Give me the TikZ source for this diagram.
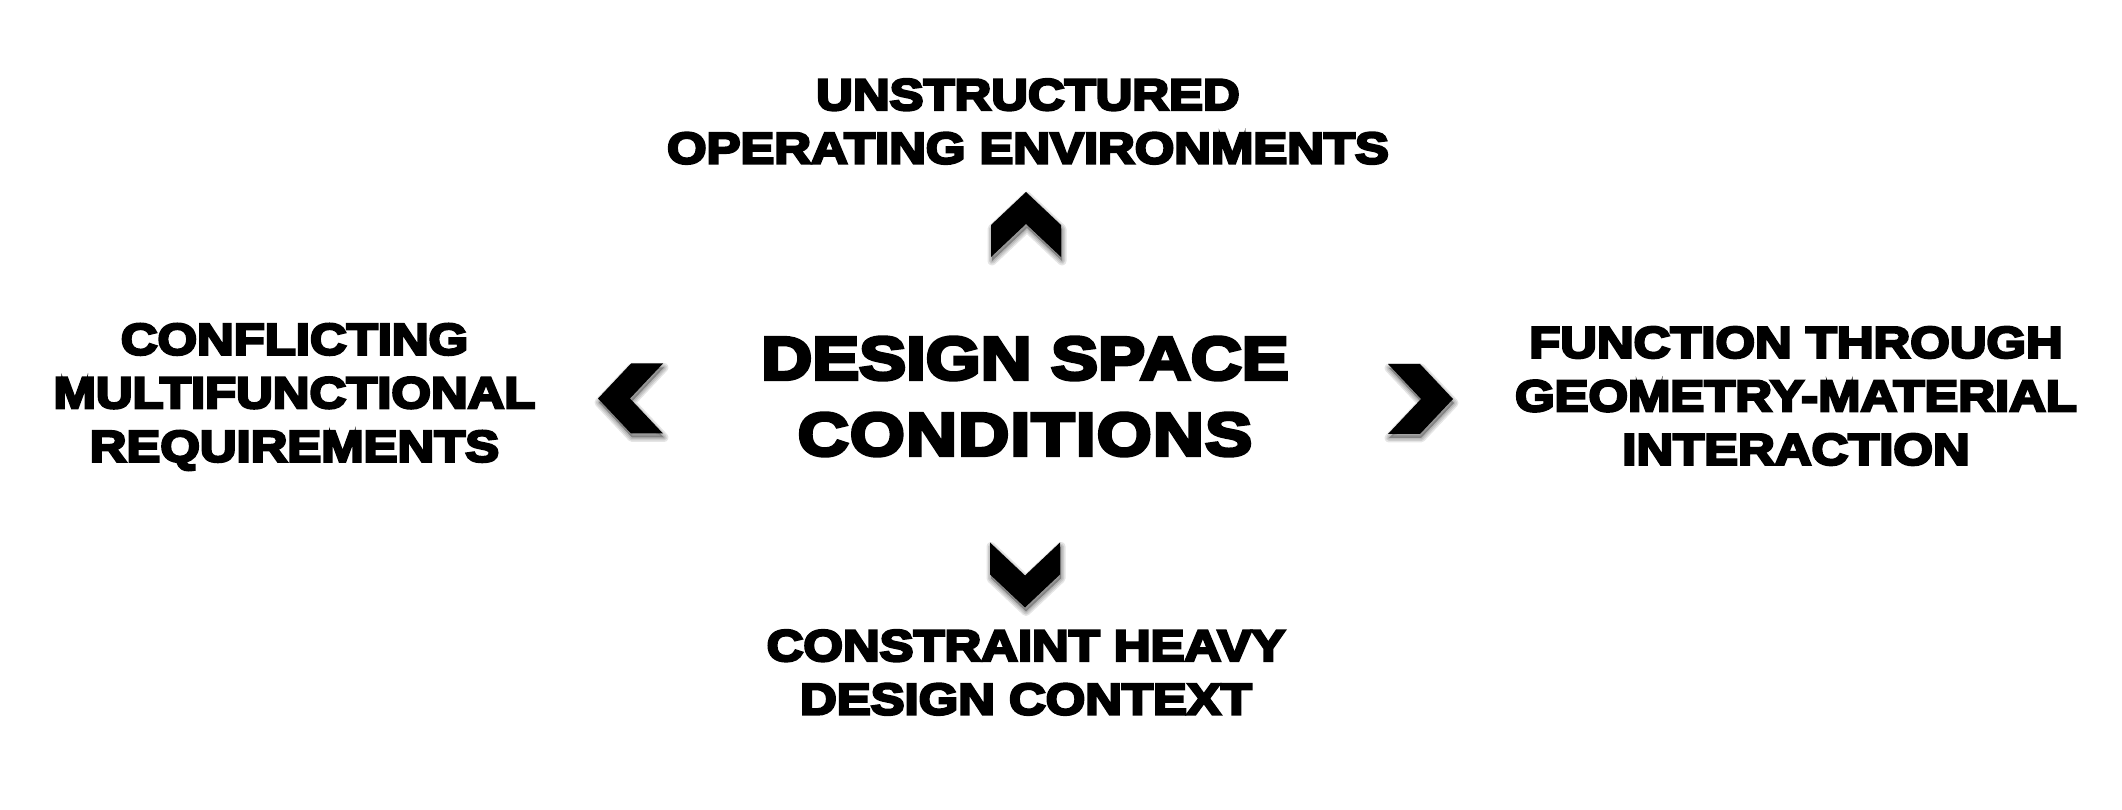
\documentclass[tikz,border=0pt]{standalone}
\usepackage{fontspec}
\newfontfamily\lblfont{Liberation Sans}[BoldFeatures={FakeBold=6,FakeStretch=1.155}]
\newfontfamily\ttlfont{Liberation Sans}[BoldFeatures={FakeBold=6,FakeStretch=1.165}]
\tikzset{
  lbl/.style={font=\lblfont\bfseries\fontsize{44}{53.5}\selectfont, align=center, inner sep=0pt, text=black},
  ttl/.style={font=\ttlfont\bfseries\fontsize{60.5}{76}\selectfont, align=center, inner sep=0pt, text=black},
  chevshadow/.style={fill=black, draw=black, line join=round, fill opacity=0.10, draw opacity=0.10},
  chevbody/.style={fill=black, draw=none},
  pics/chevron/.style 2 args={code={
    \foreach \w in {9,6,3}{
      \path[chevshadow, line width=\w pt, shift={(#1,#2)}]
        (0,32.5) -- (35,-0.5) -- (35,-32.5) -- (0,0.5) -- (-35,-32.5) -- (-35,-0.5) -- cycle;
    }
    \path[chevbody]
      (0,32.5) -- (35,-0.5) -- (35,-32.5) -- (0,0.5) -- (-35,-32.5) -- (-35,-0.5) -- cycle;
  }}
}
\begin{document}
\begin{tikzpicture}[x=1pt,y=1pt]
\useasboundingbox (0,0) rectangle (2122,810);
\fill[white] (0,0) rectangle (2122,810);
% text blocks
\node[ttl] (core) at (1025,413.5) {DESIGN SPACE\\{\addfontfeature{LetterSpace=2.2}CONDITIONS}};
\node[lbl] (top) at (1028,688.5) {UNSTRUCTURED\\OPERATING ENVIRONMENTS};
\node[lbl] (left) at (294.5,413) {CONFLICTING\\MULTIFUNCTIONAL\\REQUIREMENTS};
\node[lbl] (right) at (1796,414) {FUNCTION THROUGH\\GEOMETRY-MATERIAL\\INTERACTION};
\node[lbl] (bottom) at (1026,137.5) {CONSTRAINT HEAVY\\DESIGN CONTEXT};
% chevron positions
\coordinate (cu) at (1026,585.5);
\coordinate (cd) at (1025,235);
\coordinate (cl) at (630.5,411.5);
\coordinate (cr) at (1420.5,411);
\pic at (cu) {chevron={1}{-4}};
\pic[rotate=180] at (cd) {chevron={-1}{4}};
\pic[rotate=90] at (cl) {chevron={-4}{-1}};
\pic[rotate=-90] at (cr) {chevron={4}{1}};
\end{tikzpicture}
\end{document}
